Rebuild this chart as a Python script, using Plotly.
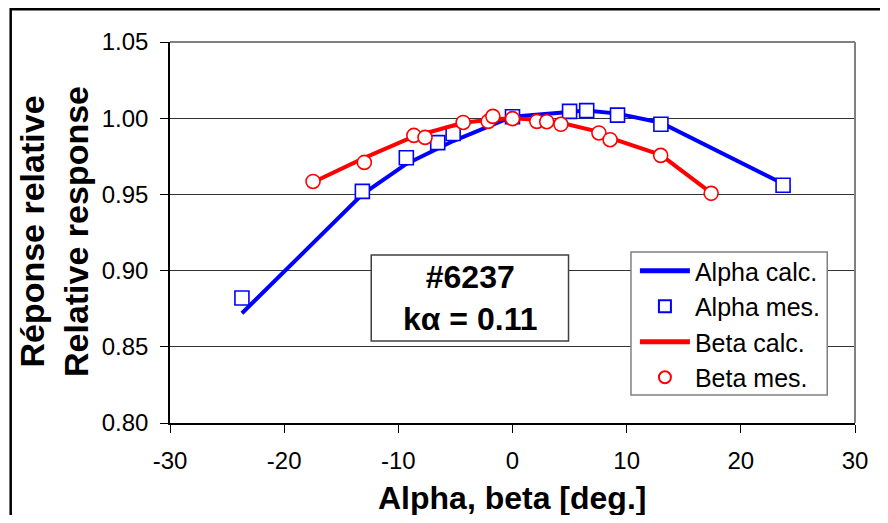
import plotly.graph_objects as go

# ---- data ----
alpha_mes_x = [-23.7, -13.15, -9.3, -6.55, -5.2, 0.0, 5.0, 6.5, 9.2, 13.0, 23.7]
alpha_mes_y = [0.882, 0.952, 0.974, 0.984, 0.990, 1.001, 1.0045, 1.005, 1.002, 0.996, 0.956]

alpha_calc_x = [-23.7, -13.15, -9.3, -6.55, -5.2, 0.0, 5.0, 6.5, 9.2, 13.0, 23.7]
alpha_calc_y = [0.872, 0.950, 0.970, 0.980, 0.985, 1.001, 1.0045, 1.005, 1.003, 0.997, 0.957]

beta_mes_x = [-17.47, -12.98, -8.64, -7.66, -4.32, -2.13, -1.72, 0.0, 2.13, 3.0, 4.24, 7.57, 8.55, 12.98, 17.4]
beta_mes_y = [0.9585, 0.971, 0.9887, 0.9874, 0.9972, 0.9979, 1.0012, 0.9997, 0.9979, 0.9977, 0.996, 0.9903, 0.9859, 0.9756, 0.9507]

beta_calc_x = [-17.47, -12.98, -8.64, -4.32, -2.0, 0.0, 2.1, 4.24, 7.57, 8.55, 12.98, 17.4]
beta_calc_y = [0.958, 0.974, 0.988, 0.997, 0.999, 1.000, 0.999, 0.997, 0.991, 0.987, 0.976, 0.951]

x_ticks = [-30, -20, -10, 0, 10, 20, 30]
x_tick_labels = ["-30", "-20", "-10", "0", "10", "20", "30"]
y_ticks = [0.80, 0.85, 0.90, 0.95, 1.00, 1.05]
y_tick_labels = ["0.80", "0.85", "0.90", "0.95", "1.00", "1.05"]

legend_names = ["Alpha calc.", "Alpha mes.", "Beta calc.", "Beta mes."]
x_title = "Alpha, beta [deg.]"
y_title = "Réponse relative<br>Relative response"
box_text = "<b>#6237<br>kα = 0.11</b>"

BLUE = "#0000FF"
RED = "#FF0000"
FONT = "Liberation Sans, Arial, sans-serif"

fig = go.Figure()
fig.add_trace(go.Scatter(x=alpha_calc_x, y=alpha_calc_y, mode="lines", name=legend_names[0],
                         line=dict(color=BLUE, width=4)))
fig.add_trace(go.Scatter(x=alpha_mes_x, y=alpha_mes_y, mode="markers", name=legend_names[1],
                         marker=dict(symbol="square", size=14, color="white",
                                     line=dict(color=BLUE, width=1.6))))
fig.add_trace(go.Scatter(x=beta_calc_x, y=beta_calc_y, mode="lines", name=legend_names[2],
                         line=dict(color=RED, width=4)))
fig.add_trace(go.Scatter(x=beta_mes_x, y=beta_mes_y, mode="markers", name=legend_names[3],
                         marker=dict(symbol="circle", size=14, color="white",
                                     line=dict(color=RED, width=1.6))))

# page body has an 8px margin; work in screen pixels and convert
OFF = 8
W, H = 872, 507
PL, PR, PT, PB = 170, 861, 42, 423   # plot area in screen pixels
L, T = PL - OFF, PT - OFF
R = (OFF + W) - PR
B = (OFF + H) - PB
pw, ph = PR - PL, PB - PT

def px(xs):
    return (xs - PL) / pw

def py(ys):
    return (PB - ys) / ph

fig.update_layout(
    width=W, height=H,
    margin=dict(l=L, r=R, t=T, b=B, pad=0),
    paper_bgcolor="white", plot_bgcolor="white",
    font=dict(family=FONT, color="black", size=24),
    showlegend=True,
    legend=dict(x=px(639), y=py(248), xanchor="left", yanchor="top",
                bgcolor="rgba(0,0,0,0)", borderwidth=0,
                font=dict(size=25, family=FONT), itemwidth=50,
                tracegroupgap=0, itemsizing="constant"),
    xaxis=dict(range=[-30, 30], tickvals=x_ticks, ticktext=x_tick_labels, ticks="outside",
               ticklen=8, tickcolor="black", showline=True, linecolor="black", linewidth=1.5,
               showgrid=False, zeroline=False, ticklabelstandoff=7,
               tickfont=dict(size=24, family=FONT)),
    yaxis=dict(range=[0.80, 1.05], tickvals=y_ticks, ticktext=y_tick_labels, ticks="outside",
               ticklen=8, tickcolor="black", showline=True, linecolor="black", linewidth=1.5,
               showgrid=True, gridcolor="#333333", gridwidth=1.2, zeroline=False,
               ticklabelstandoff=7, tickfont=dict(size=24, family=FONT)),
)

shapes = [
    # outer frame
    dict(type="rect", xref="paper", yref="paper", x0=px(9.3), x1=px(905), y0=py(540), y1=py(9.3),
         line=dict(color="black", width=2.5), fillcolor="rgba(0,0,0,0)", layer="below"),
    # plot area gray border (top and right)
    dict(type="line", xref="paper", yref="paper", x0=0, x1=1, y0=1, y1=1,
         line=dict(color="#808080", width=2)),
    dict(type="line", xref="paper", yref="paper", x0=1, x1=1, y0=0, y1=1,
         line=dict(color="#808080", width=2)),
    # text box
    dict(type="rect", xref="paper", yref="paper", x0=px(373), x1=px(572), y0=py(341), y1=py(255),
         line=dict(color="#404040", width=1.5), fillcolor="white", layer="above"),
    # legend box
    dict(type="rect", xref="paper", yref="paper", x0=px(635), x1=px(833), y0=py(395), y1=py(252),
         line=dict(color="#808080", width=1.5), fillcolor="white", layer="above"),
]
fig.update_layout(shapes=shapes)

fig.add_annotation(xref="paper", yref="paper", x=px(472.5), y=py(298), text=box_text,
                   showarrow=False, font=dict(size=32, family=FONT, color="black"),
                   xanchor="center", yanchor="middle")
fig.add_annotation(xref="paper", yref="paper", x=px(515), y=py(498), text="<b>" + x_title + "</b>",
                   showarrow=False, font=dict(size=32, family=FONT, color="black"),
                   xanchor="center", yanchor="middle")
fig.add_annotation(xref="paper", yref="paper", x=px(53), y=py(232), text="<b>" + y_title + "</b>",
                   showarrow=False, textangle=-90, font=dict(size=34, family=FONT, color="black"),
                   xanchor="center", yanchor="middle")

fig.write_html("out.html")
